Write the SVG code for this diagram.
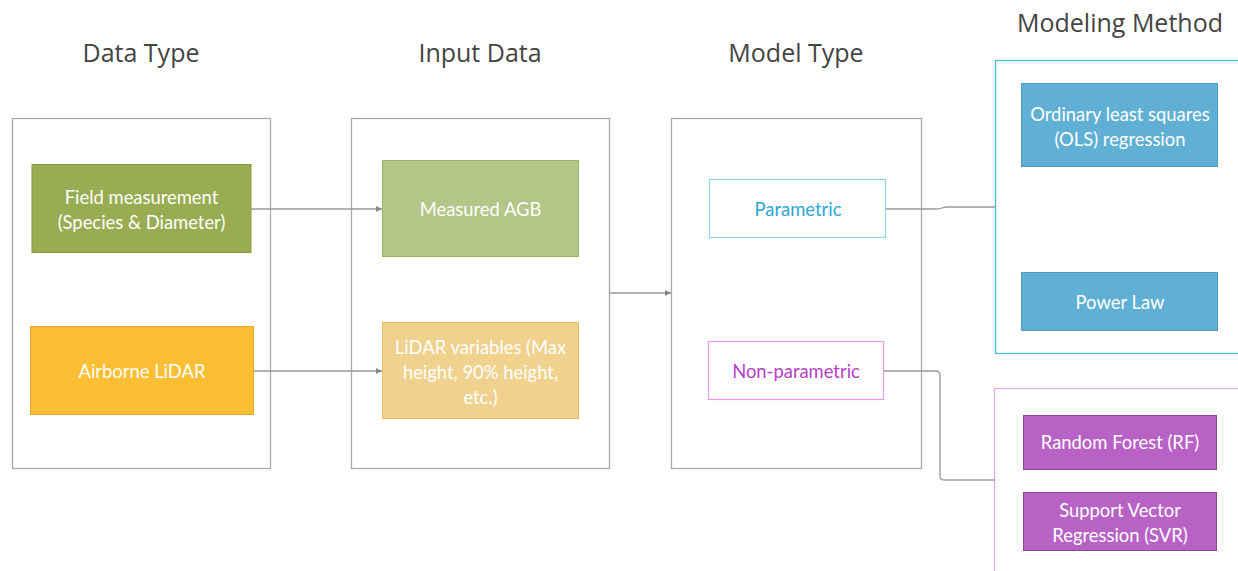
<svg xmlns="http://www.w3.org/2000/svg" width="1238" height="571" viewBox="0 0 1238 571">
<defs>
<style>
.hdr{font-family:"Open Sans","Liberation Sans",sans-serif;font-size:25px;fill:#444444;text-anchor:middle;font-weight:500}
.lbl{font-family:Lato,"Liberation Sans",sans-serif;font-size:18.4px;fill:#ffffff;text-anchor:middle}
.col{fill:#ffffff;stroke:#a9a9a9;stroke-width:1.3}
.conn{fill:none;stroke:#999999;stroke-width:1.3}
</style>
<marker id="arr" markerWidth="8" markerHeight="8" refX="6" refY="3" orient="auto" markerUnits="userSpaceOnUse">
<path d="M0,0 L6,3 L0,6 Z" fill="#888888"/>
</marker>
</defs>
<rect width="1238" height="571" fill="#ffffff"/>

<g id="headers">
<text class="hdr" x="141" y="62">Data Type</text>
<text class="hdr" x="480" y="62">Input Data</text>
<text class="hdr" x="796" y="62">Model Type</text>
<text class="hdr" x="1120" y="32">Modeling Method</text>
</g>

<g id="col-data-type"><rect class="col" x="12.5" y="118.5" width="258" height="350"/></g>
<g id="col-input-data"><rect class="col" x="351.5" y="118.5" width="258" height="350"/></g>
<g id="col-model-type"><rect class="col" x="671.5" y="118.5" width="250" height="350"/></g>
<g id="grp-parametric"><rect x="995.5" y="60.5" width="260" height="293" fill="#ffffff" stroke="#4db8e0" stroke-width="1.3"/></g>
<g id="grp-nonparametric"><rect x="994.5" y="388.5" width="260" height="200" fill="#ffffff" stroke="#e6aaee" stroke-width="1.3"/></g>

<g id="connectors">
<line class="conn" x1="251" y1="209" x2="382" y2="209" marker-end="url(#arr)"/>
<line class="conn" x1="253" y1="371" x2="382" y2="371" marker-end="url(#arr)"/>
<line class="conn" x1="610" y1="293" x2="671" y2="293" marker-end="url(#arr)"/>
<path class="conn" d="M886,209 L936,209 Q940,209 942,208 Q944,207 948,207 L995,207"/>
<path class="conn" d="M884,371 L936,371 Q940,371 940,375 L940,476 Q940,480 944,480 L995,480"/>
</g>

<g id="node-field">
<rect x="32" y="164.5" width="219" height="88" fill="#99ac52" stroke="#869a45" stroke-width="1"/>
<text class="lbl" x="141.5" y="204">Field measurement</text>
<text class="lbl" x="141.5" y="229">(Species &amp; Diameter)</text>
</g>
<g id="node-airborne">
<rect x="30.5" y="326.5" width="223" height="88" fill="#fcbe33" stroke="#e6a92a" stroke-width="1"/>
<text class="lbl" x="142" y="378">Airborne LiDAR</text>
</g>
<g id="node-agb">
<rect x="382.5" y="160.5" width="196" height="96" fill="#b3c687" stroke="#9ab466" stroke-width="1"/>
<text class="lbl" x="480.5" y="216">Measured AGB</text>
</g>
<g id="node-lidarvars">
<rect x="382.5" y="322.5" width="196" height="96" fill="#f0d18e" stroke="#e6bd63" stroke-width="1"/>
<text class="lbl" x="480.5" y="354">LiDAR variables (Max</text>
<text class="lbl" x="480.5" y="379">height, 90% height,</text>
<text class="lbl" x="480.5" y="404">etc.)</text>
</g>
<g id="node-parametric">
<rect x="709.5" y="179.5" width="176" height="58" fill="#ffffff" stroke="#8fd4ec" stroke-width="1.2"/>
<text class="lbl" x="798" y="216" style="fill:#2aa8d8">Parametric</text>
</g>
<g id="node-nonparametric">
<rect x="708.5" y="341.5" width="175" height="58" fill="#ffffff" stroke="#e49be8" stroke-width="1.2"/>
<text class="lbl" x="796" y="378" style="fill:#b73fc6">Non-parametric</text>
</g>
<g id="node-ols">
<rect x="1021.5" y="83.5" width="196" height="83" fill="#5fb0d4" stroke="#4a9cc2" stroke-width="1"/>
<text class="lbl" x="1120" y="121">Ordinary least squares</text>
<text class="lbl" x="1120" y="146">(OLS) regression</text>
</g>
<g id="node-powerlaw">
<rect x="1021.5" y="272.5" width="196" height="58" fill="#5fb0d4" stroke="#4a9cc2" stroke-width="1"/>
<text class="lbl" x="1120" y="309">Power Law</text>
</g>
<g id="node-rf">
<rect x="1023.5" y="415.5" width="193" height="54" fill="#b862c6" stroke="#8c4596" stroke-width="1"/>
<text class="lbl" x="1120" y="449">Random Forest (RF)</text>
</g>
<g id="node-svr">
<rect x="1023.5" y="492.5" width="193" height="58" fill="#b862c6" stroke="#8c4596" stroke-width="1"/>
<text class="lbl" x="1120" y="517">Support Vector</text>
<text class="lbl" x="1120" y="542">Regression (SVR)</text>
</g>
</svg>
